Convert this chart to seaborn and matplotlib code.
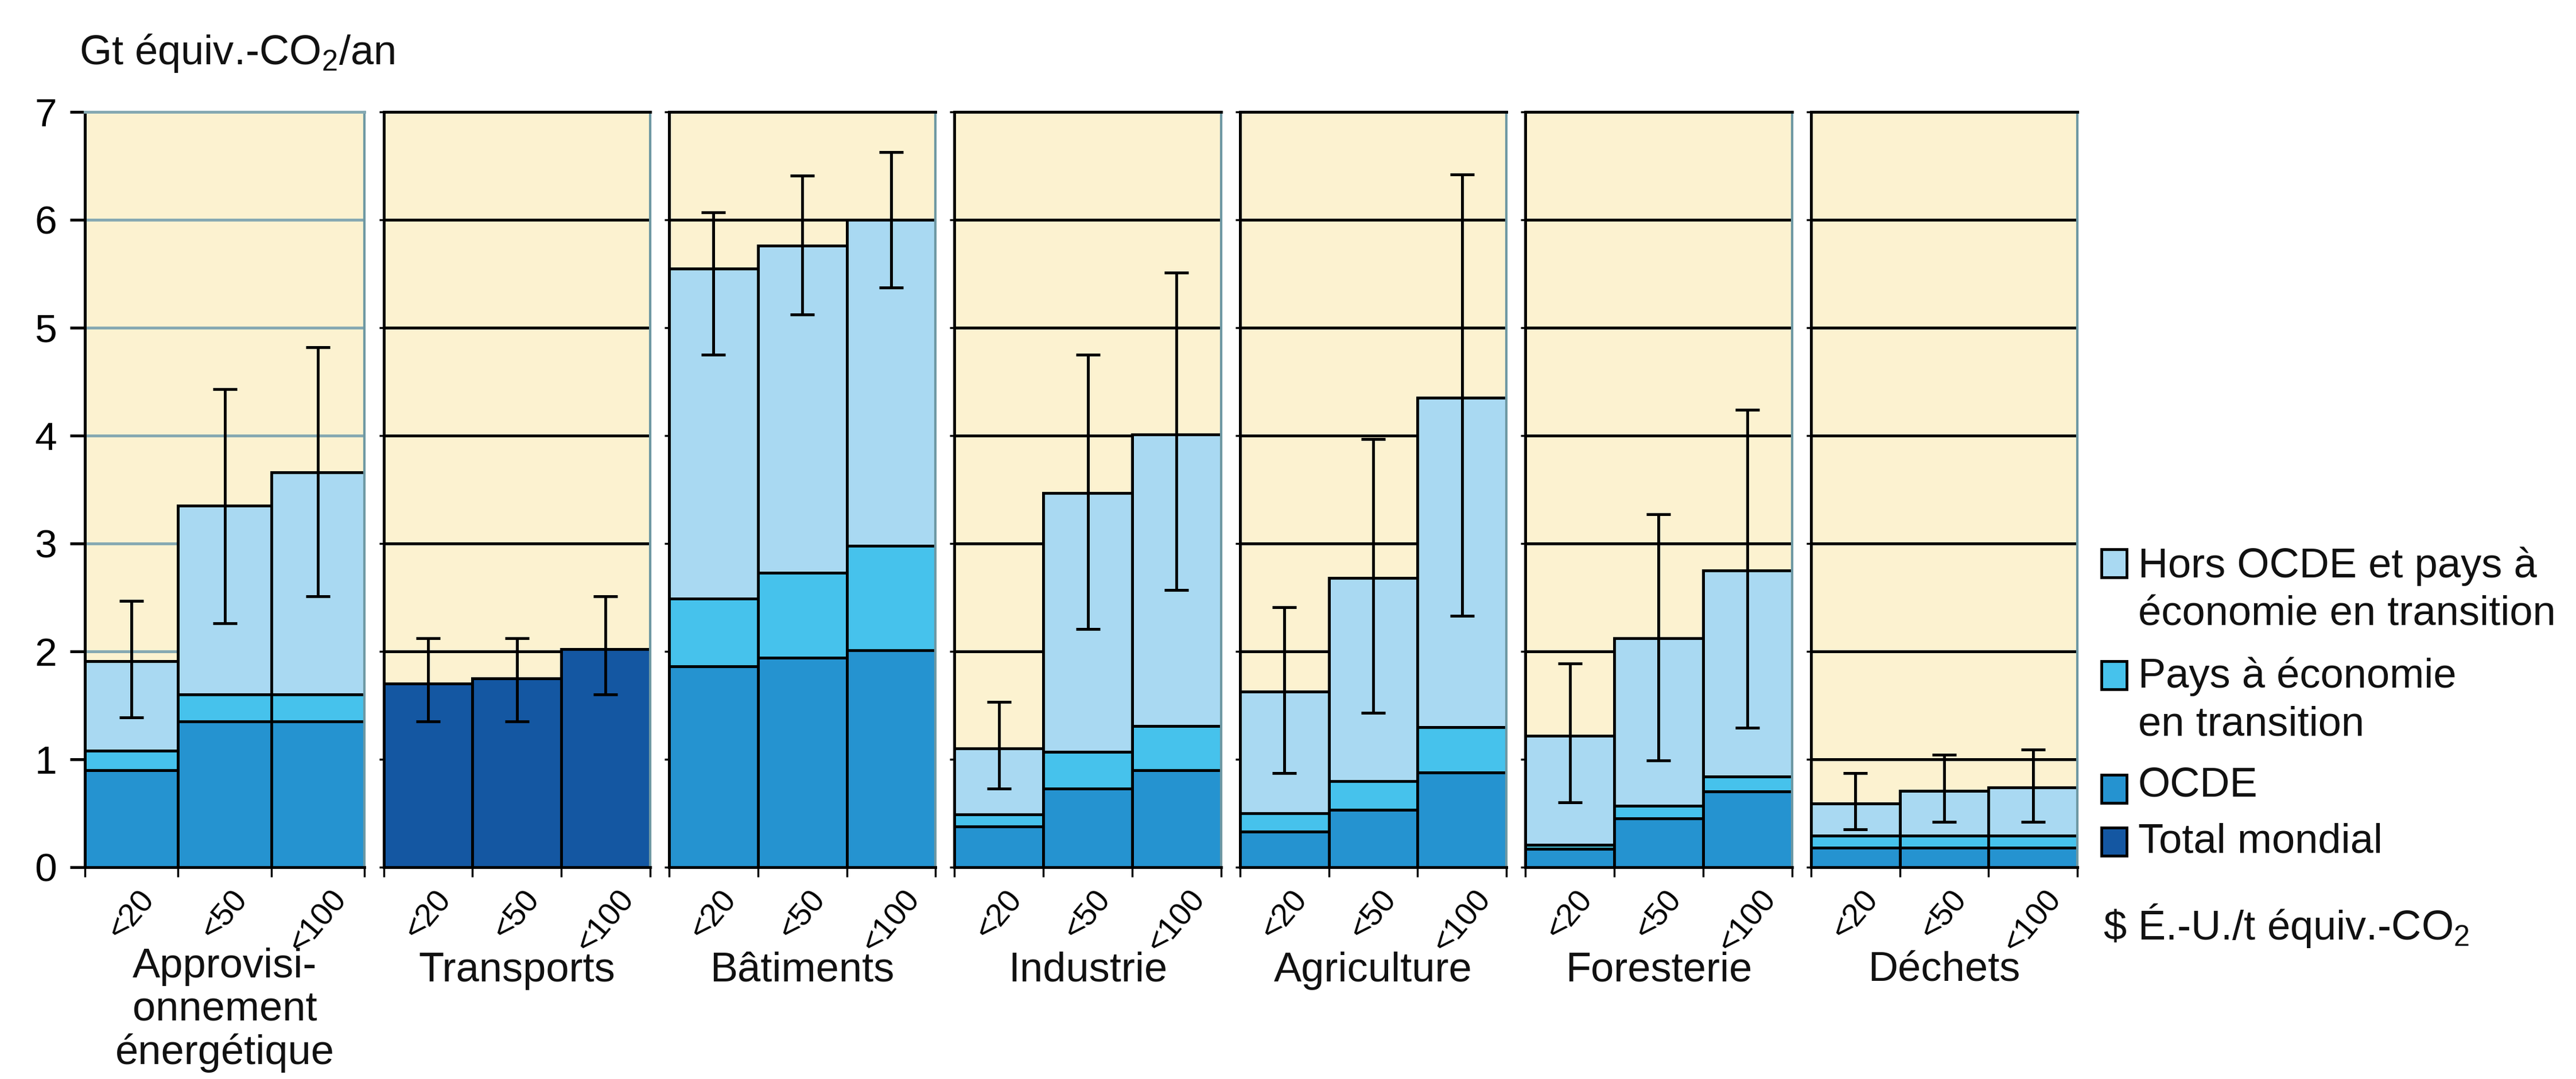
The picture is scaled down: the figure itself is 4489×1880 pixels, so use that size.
import numpy as np
import pandas as pd
import matplotlib
matplotlib.use("Agg")
import matplotlib.pyplot as plt
from matplotlib.patches import Rectangle
import seaborn as sns

# ---------------- data ----------------
sectors = ["Approvisi-\nonnement\nénergétique", "Transports", "Bâtiments", "Industrie",
           "Agriculture", "Foresterie", "Déchets"]
prices = ["<20", "<50", "<100"]
NA = [np.nan, np.nan, np.nan]

ocde = [[0.90, 1.35, 1.35], NA, [1.86, 1.94, 2.01], [0.38, 0.73, 0.90],
        [0.33, 0.53, 0.88], [0.17, 0.45, 0.70], [0.18, 0.18, 0.18]]
transition = [[0.18, 0.25, 0.25], NA, [0.63, 0.79, 0.97], [0.11, 0.34, 0.41],
              [0.17, 0.27, 0.42], [0.04, 0.12, 0.14], [0.11, 0.11, 0.11]]
hors_ocde = [[0.83, 1.75, 2.06], NA, [3.06, 3.03, 3.02], [0.61, 2.40, 2.70],
             [1.13, 1.88, 3.05], [1.01, 1.55, 1.91], [0.30, 0.42, 0.45]]
total_mondial = [NA, [1.70, 1.75, 2.02], NA, NA, NA, NA, NA]

err_low = [[1.39, 2.26, 2.51], [1.35, 1.35, 1.60], [4.75, 5.12, 5.37], [0.73, 2.21, 2.57],
           [0.87, 1.43, 2.33], [0.60, 0.99, 1.29], [0.35, 0.42, 0.42]]
err_high = [[2.47, 4.43, 4.82], [2.12, 2.12, 2.51], [6.07, 6.41, 6.63], [1.53, 4.75, 5.51],
            [2.41, 3.97, 6.42], [1.89, 3.27, 4.24], [0.87, 1.04, 1.09]]

y_ticks = [0, 1, 2, 3, 4, 5, 6, 7]
legend_labels = ["Hors OCDE et pays à\néconomie en transition",
                 "Pays à économie\nen transition", "OCDE", "Total mondial"]
ylabel_text = "Gt équiv.-CO$_2$/an"
xunit_text = "\\$ É.-U./t équiv.-CO$_2$"

# ---------------- style ----------------
c_hors = "#A9D9F2"
c_trans = "#46C2EC"
c_ocde = "#2593D0"
c_total = "#1457A2"
bg = "#FCF2D0"
ink = "#111111"
lw = 3.6
fs = 52

plt.rcParams["font.family"] = ["Liberation Sans", "DejaVu Sans"]
plt.rcParams["mathtext.fontset"] = "custom"
plt.rcParams["mathtext.rm"] = "Liberation Sans"
plt.rcParams["mathtext.it"] = "Liberation Sans:italic"
plt.rcParams["mathtext.bf"] = "Liberation Sans:bold"
plt.rcParams["text.color"] = ink

W, H = 4489, 1880
fig = plt.figure(figsize=(W / 100, H / 100), dpi=100)
axes = fig.subplots(1, len(sectors), sharey=True,
                    gridspec_kw={"width_ratios": [1.05, 1, 1, 1, 1, 1, 1]})
fig.subplots_adjust(left=148 / W, right=3620 / W, bottom=1 - 1511 / H, top=1 - 195 / H,
                    wspace=0.071)

line_step = 72  # px between lines of multi-line sector labels
for i, ax in enumerate(axes):
    df = pd.DataFrame({
        "prix": prices,
        "ocde": ocde[i],
        "trans": transition[i],
        "hors": hors_ocde[i],
        "mondial": total_mondial[i],
    })
    df["cum_trans"] = df["ocde"] + df["trans"]
    df["cum_hors"] = df["cum_trans"] + df["hors"]

    layers = [("cum_hors", c_hors), ("cum_trans", c_trans), ("ocde", c_ocde), ("mondial", c_total)]
    for col, colr in layers:
        if df[col].notna().any():
            sns.barplot(data=df, x="prix", y=col, order=prices, color=colr, saturation=1,
                        width=1.0, edgecolor="black", linewidth=lw, errorbar=None, ax=ax,
                        zorder=2)

    lo = np.array(err_low[i])
    hi = np.array(err_high[i])
    ax.errorbar(np.arange(len(prices)), (lo + hi) / 2, yerr=(hi - lo) / 2, fmt="none",
                ecolor="black", elinewidth=lw, capsize=15, capthick=lw, zorder=5)

    ax.set_facecolor(bg)
    ax.set_xlim(-0.5, len(prices) - 0.5)
    ax.set_ylim(0, 7)
    ax.set_yticks(y_ticks)
    ax.set_axisbelow(True)
    gcol = "#86A9B2" if i == 0 else "black"
    ax.yaxis.grid(True, color=gcol, linewidth=lw)
    ax.xaxis.grid(False)
    ax.set_xlabel("")
    ax.set_ylabel("")

    ax.set_xticks(range(len(prices)))
    ax.set_xticklabels(prices, rotation=50, ha="center", va="top", fontsize=40)
    ax.set_xticks(np.arange(len(prices) + 1) - 0.5, minor=True)
    ax.tick_params(axis="x", which="major", length=0, pad=22)
    ax.tick_params(axis="x", which="minor", length=12, width=2.5, direction="out", color="black")

    for side in ["left", "bottom", "top"]:
        ax.spines[side].set_color("black")
        ax.spines[side].set_linewidth(lw)
    ax.spines["right"].set_color("#6E98A3")
    ax.spines["right"].set_linewidth(3)
    if i == 0:
        ax.spines["top"].set_color(gcol)
        ax.tick_params(axis="y", length=19, width=lw, pad=16, labelsize=50, direction="out")
    else:
        ax.tick_params(axis="y", length=6, width=2.5, direction="out", labelleft=False)

    pos = ax.get_position()
    n_extra = sectors[i].count("\n")
    fig.text((pos.x0 + pos.x1) / 2, 1 - (1710 + n_extra * line_step) / H, sectors[i],
             ha="center", va="baseline", multialignment="center", fontsize=fs, linespacing=1.15)

fig.text(138 / W, 1 - 112 / H, ylabel_text, ha="left", va="baseline", fontsize=fs)
fig.text(3665 / W, 1 - 1637 / H, xunit_text, ha="left", va="baseline", fontsize=fs)

# legend (markers aligned with the first line of each entry, as in the reference)
leg_colors = [c_hors, c_trans, c_ocde, c_total]
leg_marker_bottom = [1006, 1201, 1399, 1491]
leg_last_baseline = [1089, 1281, 1387, 1485]
for lab, colr, mb, tb in zip(legend_labels, leg_colors, leg_marker_bottom, leg_last_baseline):
    fig.patches.append(Rectangle((3662 / W, 1 - mb / H), 44 / W, 49 / H, transform=fig.transFigure,
                                 facecolor=colr, edgecolor="black", linewidth=3.5, figure=fig))
    fig.text(3726 / W, 1 - tb / H, lab, ha="left", va="baseline", fontsize=fs, linespacing=1.3)

fig.savefig("out.png", dpi=100, facecolor="white")
